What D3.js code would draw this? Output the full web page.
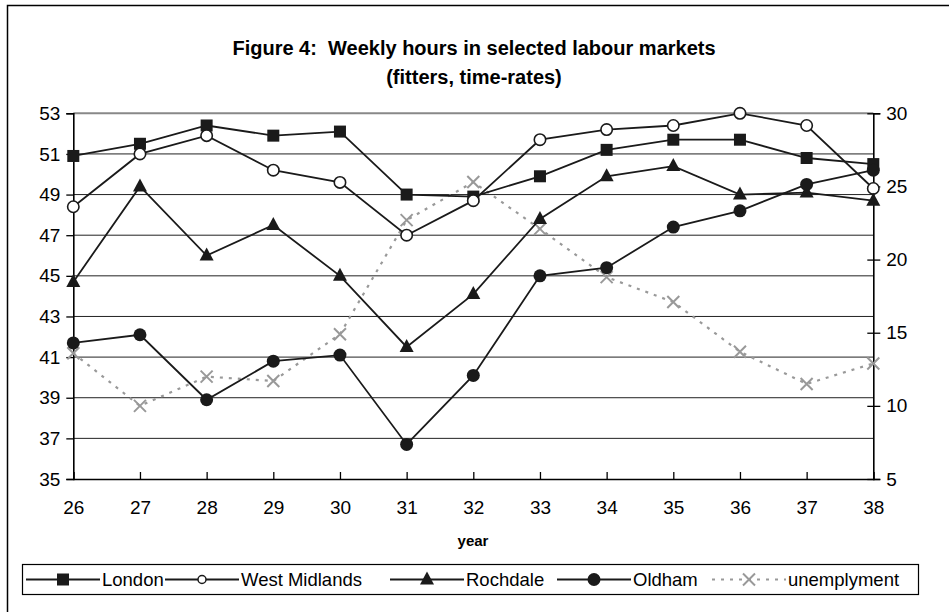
<!DOCTYPE html>
<html>
<head>
<meta charset="utf-8">
<script src="https://cdn.jsdelivr.net/npm/d3@7"></script>
<style>
  body { margin: 0; background: #fff; }
  text { font-family: Arial, "Liberation Sans", sans-serif; white-space: pre; }
</style>
</head>
<body>
<div id="content"></div>
<script>
const w = 949
const h = 612

// data
const years = [26, 27, 28, 29, 30, 31, 32, 33, 34, 35, 36, 37, 38];
const london = [50.9, 51.5, 52.4, 51.9, 52.1, 49.0, 48.9, 49.9, 51.2, 51.7, 51.7, 50.8, 50.5];
const westMidlands = [48.4, 51.0, 51.9, 50.2, 49.6, 47.0, 48.7, 51.7, 52.2, 52.4, 53.0, 52.4, 49.3];
const rochdale = [44.7, 49.4, 46.0, 47.5, 45.0, 41.5, 44.1, 47.8, 49.9, 50.4, 49.0, 49.1, 48.7];
const oldham = [41.7, 42.1, 38.9, 40.8, 41.1, 36.7, 40.1, 45.0, 45.4, 47.4, 48.2, 49.5, 50.2];
const unemployment = [13.6, 10.0, 12.0, 11.7, 14.9, 22.7, 25.3, 22.1, 18.8, 17.1, 13.7, 11.5, 12.9];
const leftTicks = [35, 37, 39, 41, 43, 45, 47, 49, 51, 53];
const rightTicks = [5, 10, 15, 20, 25, 30];

const series = [
  { name: "London", values: london, marker: "square" },
  { name: "West Midlands", values: westMidlands, marker: "open" },
  { name: "Rochdale", values: rochdale, marker: "triangle" },
  { name: "Oldham", values: oldham, marker: "dot" }
];

let svg = d3.select("#content")
  .append("svg")
  .attr("width", w)
  .attr("height", h)

// chart border
svg.append("rect")
  .attr("x", 7.5).attr("y", 5.5)
  .attr("width", 960).attr("height", 640)
  .attr("fill", "none").attr("stroke", "#000").attr("stroke-width", 1.5)

svg.append("text").attr("x", 474).attr("y", 55)
  .attr("text-anchor", "middle").style("font-size", "20px").style("font-weight", "bold")
  .text("Figure 4:  Weekly hours in selected labour markets")
svg.append("text").attr("x", 474).attr("y", 84)
  .attr("text-anchor", "middle").style("font-size", "20px").style("font-weight", "bold")
  .text("(fitters, time-rates)")

const pLeft = 73.3, pRight = 873.3, pTop = 113.3, pBottom = 479

let x = d3.scaleLinear().domain([26, 38]).range([pLeft, pRight])
let y = d3.scaleLinear().domain([35, 53]).range([pBottom, pTop])
let y2 = d3.scaleLinear().domain([5, 30]).range([pBottom, pTop])

// gridlines
svg.append("g").selectAll("line")
  .data(leftTicks.filter(d => d > 35 && d < 53))
  .enter().append("line")
  .attr("x1", pLeft).attr("x2", pRight)
  .attr("y1", d => y(d)).attr("y2", d => y(d))
  .attr("stroke", "#222").attr("stroke-width", 1)
svg.append("line")
  .attr("x1", pLeft).attr("x2", pRight).attr("y1", pTop).attr("y2", pTop)
  .attr("stroke", "#888").attr("stroke-width", 2)

// axes
let ax = svg.append("g").attr("class", "x axis")
  .attr("transform", "translate(0," + pBottom + ")")
  .call(d3.axisTop(x).tickValues(years).tickSize(7).tickFormat(d3.format("d")))
ax.selectAll("text").remove()
ax.selectAll(".tick").append("text")
  .attr("y", 35).attr("text-anchor", "middle").attr("fill", "#000")
  .style("font-size", "19px").text(d => d)

svg.append("g").attr("class", "y axis")
  .attr("transform", "translate(" + pLeft + ",0)")
  .call(d3.axisLeft(y).tickValues(leftTicks).tickSize(7).tickPadding(6))
  .selectAll("text").style("font-size", "19px").attr("fill", "#000")

let ar = svg.append("g").attr("class", "y axis")
  .attr("transform", "translate(" + pRight + ",0)")
  .call(d3.axisRight(y2).tickValues(rightTicks).tickSize(7).tickPadding(6))
ar.selectAll("text").style("font-size", "19px").attr("fill", "#000").attr("x", 13)
ar.selectAll(".tick line").attr("x1", -6)

svg.selectAll(".axis path, .axis line").attr("stroke", "#000").attr("stroke-width", 1.3)
svg.selectAll(".axis .domain").attr("stroke-width", 1.6)

svg.append("text").attr("x", 473).attr("y", 546)
  .attr("text-anchor", "middle").style("font-size", "15px").style("font-weight", "bold")
  .text("year")

// markers
function drawMarker(g, type, cx, cy) {
  if (type === "square") {
    g.append("rect").attr("x", cx - 6).attr("y", cy - 6).attr("width", 12).attr("height", 12)
      .attr("fill", "#1a1a1a")
  } else if (type === "open") {
    g.append("circle").attr("cx", cx).attr("cy", cy).attr("r", 5.7)
      .attr("fill", "#fff").attr("stroke", "#1a1a1a").attr("stroke-width", 1.6)
  } else if (type === "triangle") {
    g.append("path").attr("d", "M" + cx + "," + (cy - 8) + "L" + (cx + 7) + "," + (cy + 5) + "L" + (cx - 7) + "," + (cy + 5) + "Z")
      .attr("fill", "#1a1a1a")
  } else if (type === "dot") {
    g.append("circle").attr("cx", cx).attr("cy", cy).attr("r", 6.5).attr("fill", "#1a1a1a")
  } else if (type === "cross") {
    g.append("path").attr("d", "M" + (cx - 6) + "," + (cy - 6) + "L" + (cx + 6) + "," + (cy + 6) + "M" + (cx + 6) + "," + (cy - 6) + "L" + (cx - 6) + "," + (cy + 6))
      .attr("stroke", "#999").attr("stroke-width", 2).attr("fill", "none")
  }
}

// unemployment line (right axis)
let ugen = d3.line().x((d, i) => x(years[i])).y(d => y2(d))
svg.append("path").datum(unemployment).attr("d", ugen)
  .attr("fill", "none").attr("stroke", "#999").attr("stroke-width", 2.2).attr("stroke-dasharray", "3,6")
let ug = svg.append("g")
unemployment.forEach((v, i) => drawMarker(ug, "cross", x(years[i]), y2(v)))

let line = d3.line().x((d, i) => x(years[i])).y(d => y(d))
series.forEach(s => {
  svg.append("path").datum(s.values).attr("d", line)
    .attr("fill", "none").attr("stroke", "#1a1a1a").attr("stroke-width", 1.8)
})
series.forEach(s => {
  let g = svg.append("g")
  s.values.forEach((v, i) => drawMarker(g, s.marker, x(years[i]), y(v)))
})

// legend
let lg = svg.append("g")
lg.append("rect").attr("x", 22.5).attr("y", 564.5).attr("width", 896).attr("height", 30)
  .attr("fill", "#fff").attr("stroke", "#000").attr("stroke-width", 1.2)
const legendItems = [
  { name: "London", marker: "square", x0: 26 },
  { name: "West Midlands", marker: "open", x0: 165 },
  { name: "Rochdale", marker: "triangle", x0: 390 },
  { name: "Oldham", marker: "dot", x0: 557 },
  { name: "unemplyment", marker: "cross", x0: 712 }
]
legendItems.forEach(it => {
  const ly = 579.5
  let l = lg.append("line").attr("x1", it.x0).attr("x2", it.x0 + 74).attr("y1", ly).attr("y2", ly)
  if (it.marker === "cross") {
    l.attr("stroke", "#999").attr("stroke-width", 2).attr("stroke-dasharray", "3,6")
  } else {
    l.attr("stroke", "#1a1a1a").attr("stroke-width", 1.8)
  }
  let g = lg.append("g")
  if (it.marker === "open") {
    g.append("circle").attr("cx", it.x0 + 37).attr("cy", ly).attr("r", 4)
      .attr("fill", "#fff").attr("stroke", "#1a1a1a").attr("stroke-width", 1.5)
  } else {
    drawMarker(g, it.marker, it.x0 + 37, ly)
  }
  lg.append("text").attr("x", it.x0 + 76).attr("y", ly + 6.5)
    .style("font-size", "18.5px").text(it.name)
})
</script>
</body>
</html>
